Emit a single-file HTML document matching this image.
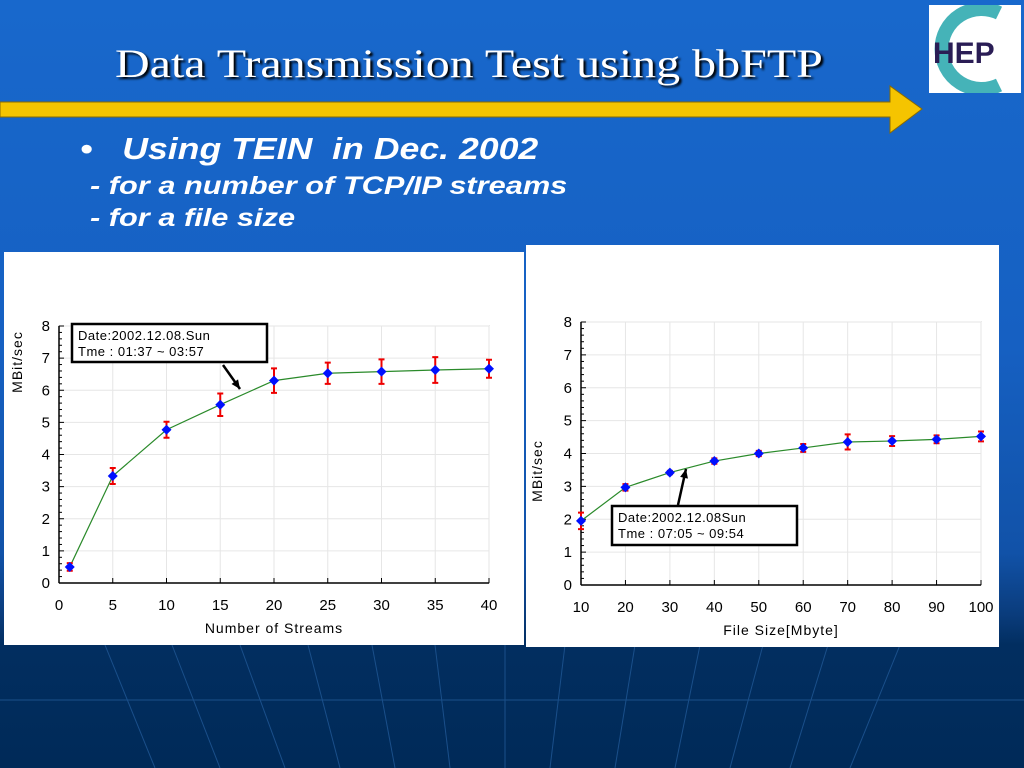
<!DOCTYPE html>
<html><head><meta charset="utf-8"><style>
body{margin:0;width:1024px;height:768px;overflow:hidden;background:linear-gradient(180deg,#1868cc 0%,#1660c2 45%,#1152a8 72%,#0a3c7c 80%,#022e60 84%,#002a58 100%);font-family:"Liberation Sans",sans-serif;position:relative}
.t{position:absolute;color:#fff;white-space:nowrap;transform-origin:0 0}
</style></head><body>
<svg style="position:absolute;left:0;top:645px" width="1024" height="123">
<g stroke="#1a4f8a" stroke-width="1" fill="none">
<line x1="0" y1="55" x2="1024" y2="55"/>
<line x1="105" y1="0" x2="155" y2="123"/><line x1="172" y1="0" x2="220" y2="123"/><line x1="240" y1="0" x2="285" y2="123"/><line x1="308" y1="0" x2="340" y2="123"/><line x1="372" y1="0" x2="395" y2="123"/><line x1="435" y1="0" x2="450" y2="123"/><line x1="505" y1="0" x2="505" y2="123"/><line x1="565" y1="0" x2="550" y2="123"/><line x1="635" y1="0" x2="615" y2="123"/><line x1="700" y1="0" x2="675" y2="123"/><line x1="763" y1="0" x2="730" y2="123"/><line x1="828" y1="0" x2="790" y2="123"/><line x1="900" y1="0" x2="850" y2="123"/>
</g></svg>
<div class="t" style="left:115px;top:40px;font-family:'Liberation Serif',serif;font-size:40px;text-shadow:2px 2px 2px #000;transform:scaleX(1.2)">Data Transmission Test using bbFTP</div>
<svg style="position:absolute;left:0;top:80px" width="930" height="60"><polygon points="0,22 890,22 890,6 922,29 890,53 890,37 0,37" fill="#f5c400" stroke="#8a6a00" stroke-width="1"/></svg>
<div style="position:absolute;left:929px;top:5px;width:92px;height:88px;background:#fff">
<svg width="92" height="88"><path d="M70,8 A40,40 0 1 0 70,80" fill="none" stroke="#45b3b8" stroke-width="14"/><text x="4" y="58" font-size="30" font-weight="bold" fill="#2a1d55" font-family="Liberation Sans">HEP</text></svg></div>
<div class="t" style="left:80px;top:131px;font-size:31px;font-weight:bold;font-style:italic;transform:scaleX(1.15)">•&nbsp;&nbsp;&nbsp;Using TEIN&nbsp; in Dec. 2002</div>
<div class="t" style="left:90px;top:172px;font-size:25px;font-weight:bold;font-style:italic;transform:scaleX(1.23)">- for a number of TCP/IP streams</div>
<div class="t" style="left:90px;top:204px;font-size:25px;font-weight:bold;font-style:italic;transform:scaleX(1.23)">- for a file size</div>
<svg id="c1" style="position:absolute;left:4px;top:252px;background:#fff" width="520" height="393"></svg>
<svg id="c2" style="position:absolute;left:526px;top:245px;background:#fff" width="473" height="402"></svg>
<script>
const streamsX=[1,5,10,15,20,25,30,35,40];
const streamsY=[0.5,3.33,4.77,5.55,6.3,6.53,6.58,6.63,6.67];
const streamsErr=[0.12,0.25,0.25,0.35,0.38,0.33,0.38,0.4,0.28];
const streamsTicks=[0,5,10,15,20,25,30,35,40];
const sizeX=[10,20,30,40,50,60,70,80,90,100];
const sizeY=[1.95,2.97,3.42,3.77,4.0,4.17,4.35,4.38,4.43,4.52];
const sizeErr=[0.25,0.1,0.05,0.08,0.08,0.12,0.23,0.15,0.12,0.15];
const sizeTicks=[10,20,30,40,50,60,70,80,90,100];
const yTicks=[0,1,2,3,4,5,6,7,8];
const NS='http://www.w3.org/2000/svg';
function mk(p,t,a,txt){const e=document.createElementNS(NS,t);for(const k in a)e.setAttribute(k,a[k]);if(txt!=null)e.textContent=txt;p.appendChild(e);return e;}
function chart(svg,o){
 const sx=v=>o.x0+(v-o.xmin)/(o.xmax-o.xmin)*(o.x1-o.x0);
 const sy=v=>o.y0-(v/8)*(o.y0-o.y1);
 mk(svg,'rect',{x:o.x0,y:o.y1,width:o.x1-o.x0,height:o.y0-o.y1,fill:'none',stroke:'#aaa'});
 yTicks.forEach(t=>{const g=mk(svg,'line',{x1:o.x0,x2:o.x1,y1:sy(t),y2:sy(t),stroke:'#e6e6e6'});
  const l=mk(svg,'text',{x:o.x0-9,y:sy(t)+5,'text-anchor':'end','font-size':15,fill:'#000'},t);
  for(let m=1;m<5&&t<8;m++)mk(svg,'line',{x1:o.x0,x2:o.x0+3,y1:sy(t+m/5),y2:sy(t+m/5),stroke:'#000'});
  mk(svg,'line',{x1:o.x0,x2:o.x0+5,y1:sy(t),y2:sy(t),stroke:'#000'});});
 o.ticks.forEach(t=>{mk(svg,'line',{x1:sx(t),x2:sx(t),y1:o.y1,y2:o.y0,stroke:'#e6e6e6'});mk(svg,'line',{x1:sx(t),x2:sx(t),y1:o.y0-5,y2:o.y0,stroke:'#000'});
  const l=mk(svg,'text',{x:sx(t),y:o.y0+27,'text-anchor':'middle','font-size':15},t);});
 mk(svg,'line',{x1:o.x0,x2:o.x0,y1:o.y1,y2:o.y0,stroke:'#000','stroke-width':1.5});
 mk(svg,'line',{x1:o.x0,x2:o.x1,y1:o.y0,y2:o.y0,stroke:'#000','stroke-width':1.5});
 const ln=mk(svg,'polyline',{points:o.xs.map((x,i)=>sx(x)+','+sy(o.ys[i])).join(' '),fill:'none',stroke:'#2a8a2a','stroke-width':1.2});
 
 o.xs.forEach((x,i)=>{const cx=sx(x),cy=sy(o.ys[i]),e=o.err[i];
  const eb=mk(svg,'path',{d:`M${cx},${sy(o.ys[i]+e)}V${sy(o.ys[i]-e)}M${cx-3},${sy(o.ys[i]+e)}h6M${cx-3},${sy(o.ys[i]-e)}h6`,stroke:'#e00',fill:'none','stroke-width':2});
  
  const p=mk(svg,'polygon',{points:`${cx},${cy-5} ${cx+5},${cy} ${cx},${cy+5} ${cx-5},${cy}`,fill:'#0010ff'});
  });
 const yt=mk(svg,'text',{transform:`translate(${o.ylx},${o.yly}) rotate(-90)`,'text-anchor':'middle','font-size':14,'letter-spacing':1},'MBit/sec');
 
 const xt=mk(svg,'text',{x:(o.x0+o.x1)/2,y:o.y0+50,'text-anchor':'middle','font-size':14,'letter-spacing':1},o.xlabel);
 
 const b=o.box;mk(svg,'rect',{x:b[0],y:b[1],width:b[2],height:b[3],fill:'#fff',stroke:'#000','stroke-width':2.5});
 const a1=mk(svg,'text',{x:b[0]+6,y:b[1]+16,'font-size':13,'letter-spacing':0.5},b[4]);
 const a2=mk(svg,'text',{x:b[0]+6,y:b[1]+32,'font-size':13,'letter-spacing':0.5},b[5]);
 const ar=o.arrow;mk(svg,'line',{x1:ar[0],y1:ar[1],x2:ar[2],y2:ar[3],stroke:'#000','stroke-width':2.5});
 const dx=ar[2]-ar[0],dy=ar[3]-ar[1],L=Math.hypot(dx,dy),ux=dx/L,uy=dy/L;
 mk(svg,'polygon',{points:`${ar[2]},${ar[3]} ${ar[2]-9*ux-4*uy},${ar[3]-9*uy+4*ux} ${ar[2]-9*ux+4*uy},${ar[3]-9*uy-4*ux}`,fill:'#000'});
}
chart(document.getElementById('c1'),{x0:55,x1:485,y0:331,y1:74,xmin:0,xmax:40,ticks:streamsTicks,xs:streamsX,ys:streamsY,err:streamsErr,xlabel:'Number of Streams',ylx:18,yly:110,
 box:[68,72,195,38,'Date:2002.12.08.Sun','Tme : 01:37 ~ 03:57'],arrow:[219,113,236,137]});
chart(document.getElementById('c2'),{x0:55,x1:455,y0:340,y1:77,xmin:10,xmax:100,ticks:sizeTicks,xs:sizeX,ys:sizeY,err:sizeErr,xlabel:'File Size[Mbyte]',ylx:16,yly:226,
 box:[86,261,185,39,'Date:2002.12.08Sun','Tme : 07:05 ~ 09:54'],arrow:[152,260,160,224]});
</script>
</body></html>
